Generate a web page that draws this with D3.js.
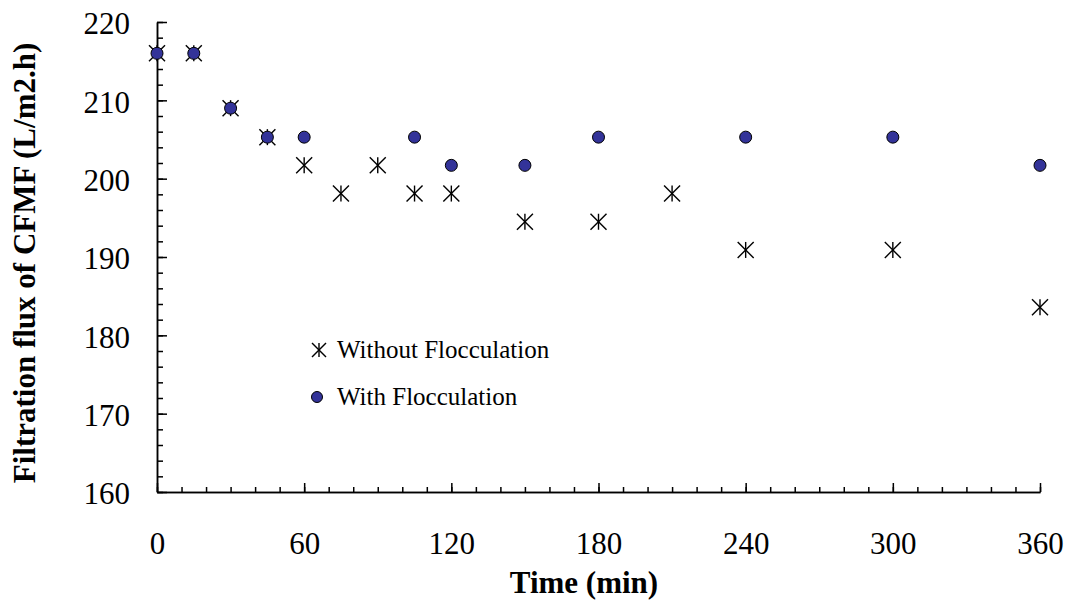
<!DOCTYPE html>
<html>
<head>
<meta charset="utf-8">
<script src="https://cdn.jsdelivr.net/npm/d3@7"></script>
<style>
  body { margin: 0; background: #fff; }
  text { font-family: "Liberation Serif", "Times New Roman", serif; }
</style>
</head>
<body>
<svg width="1069" height="601"></svg>
<script>
// time (min)
const timeWithout = [0, 15, 30, 45, 60, 75, 90, 105, 120, 150, 180, 210, 240, 300, 360]
const fluxWithout = [216, 216, 209, 205.3, 201.7, 198.1, 201.7, 198.1, 198.1, 194.5, 194.5, 198.1, 190.9, 190.9, 183.6]

const timeWith = [0, 15, 30, 45, 60, 105, 120, 150, 180, 240, 300, 360]
const fluxWith = [216, 216, 209, 205.3, 205.3, 205.3, 201.7, 201.7, 205.3, 205.3, 205.3, 201.7]

const xTicks = [0, 60, 120, 180, 240, 300, 360]
const yTicks = [160, 170, 180, 190, 200, 210, 220]

const svg = d3.select("svg")
const plotLeft = 157, plotRight = 1040, plotTop = 22, plotBottom = 492

const x = d3.scaleLinear().domain([0, 360]).range([plotLeft, plotRight])
const y = d3.scaleLinear().domain([160, 220]).range([plotBottom, plotTop])

// minor ticks
svg.append("g")
  .attr("transform", `translate(0,${plotBottom})`)
  .call(d3.axisBottom(x).tickValues(d3.range(0, 361, 10)).tickSizeInner(-5).tickSizeOuter(0).tickFormat(""))
svg.append("g")
  .attr("transform", `translate(${plotLeft},0)`)
  .call(d3.axisLeft(y).tickValues(d3.range(160, 221, 2)).tickSizeInner(-6).tickSizeOuter(0).tickFormat(""))

// major ticks + labels
const xAxis = svg.append("g")
  .attr("transform", `translate(0,${plotBottom})`)
  .call(d3.axisBottom(x).tickValues(xTicks).tickSizeInner(-9).tickSizeOuter(0).tickPadding(40))
const yAxis = svg.append("g")
  .attr("transform", `translate(${plotLeft},0)`)
  .call(d3.axisLeft(y).tickValues(yTicks).tickSizeInner(-10).tickSizeOuter(0).tickPadding(27))

svg.selectAll(".domain, .tick line").attr("stroke", "#000").attr("stroke-width", 1.5)
xAxis.attr("font-family", "Liberation Serif").attr("font-size", 31)
yAxis.attr("font-family", "Liberation Serif").attr("font-size", 31)
svg.selectAll(".tick text").attr("fill", "#000")
yAxis.selectAll(".tick text").attr("dy", "0.38em")

// axis titles
svg.append("text")
  .attr("x", 584).attr("y", 593)
  .attr("text-anchor", "middle")
  .style("font-size", "31px").style("font-weight", "bold")
  .text("Time (min)")
svg.append("text")
  .attr("transform", "translate(35,263) rotate(-90)")
  .attr("text-anchor", "middle")
  .style("font-size", "31px").style("font-weight", "bold")
  .text("Filtration flux of CFMF (L/m2.h)")

function asterisk(g, s) {
  g.append("line").attr("x1", 0).attr("y1", -s).attr("x2", 0).attr("y2", s)
  g.append("line").attr("x1", -s).attr("y1", -s).attr("x2", s).attr("y2", s)
  g.append("line").attr("x1", -s).attr("y1", s).attr("x2", s).attr("y2", -s)
}

const without = timeWithout.map((t, i) => ({t: t, v: fluxWithout[i]}))
const withF = timeWith.map((t, i) => ({t: t, v: fluxWith[i]}))

svg.append("g").selectAll("g")
  .data(without)
  .enter().append("g")
  .attr("transform", d => `translate(${x(d.t)},${y(d.v)})`)
  .attr("stroke", "#000").attr("stroke-width", 1.4)
  .each(function() { asterisk(d3.select(this), 8) })

svg.append("g").selectAll("circle")
  .data(withF)
  .enter().append("circle")
  .attr("cx", d => x(d.t))
  .attr("cy", d => y(d.v))
  .attr("r", 6)
  .attr("fill", "#333399")
  .attr("stroke", "#000")
  .attr("stroke-width", 1)

// legend
const lg1 = svg.append("g").attr("transform", "translate(319,350)")
  .attr("stroke", "#000").attr("stroke-width", 1.4)
asterisk(lg1, 7)
svg.append("text").attr("x", 337).attr("y", 358).style("font-size", "25px").text("Without Flocculation")
svg.append("circle").attr("cx", 317).attr("cy", 397).attr("r", 5.5)
  .attr("fill", "#333399").attr("stroke", "#000").attr("stroke-width", 1)
svg.append("text").attr("x", 337).attr("y", 405).style("font-size", "25px").text("With Flocculation")
</script>
</body>
</html>
